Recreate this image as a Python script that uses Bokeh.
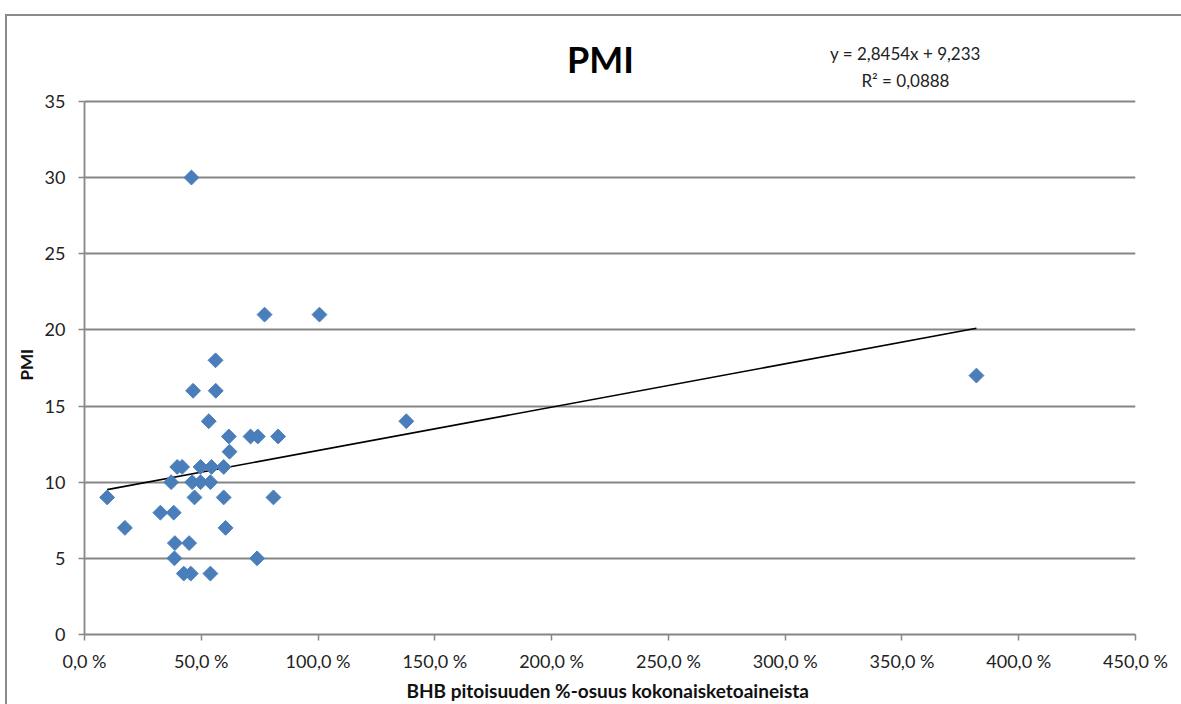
import numpy as np
from bokeh.plotting import figure
from bokeh.models import ColumnDataSource, FixedTicker, CustomJSTickFormatter, InlineStyleSheet, Title
from bokeh.core.properties import value
from bokeh.embed import file_html
from bokeh.resources import INLINE

# BHB share of total ketones (fraction) and PMI values
bhb_share = [0.097, 0.173, 0.458, 0.771, 1.006, 1.378, 3.819, 0.809, 0.739,
             0.561, 0.465, 0.562, 0.532, 0.618, 0.711, 0.742, 0.829, 0.621,
             0.397, 0.418, 0.497, 0.544, 0.596, 0.371, 0.461, 0.497, 0.539,
             0.471, 0.596, 0.325, 0.382, 0.604, 0.387, 0.448, 0.385, 0.425,
             0.455, 0.539]
pmi = [9, 7, 30, 21, 21, 14, 17, 9, 5,
       18, 16, 16, 14, 13, 13, 13, 13, 12,
       11, 11, 11, 11, 11, 10, 10, 10, 10,
       9, 9, 8, 8, 7, 6, 6, 5, 4,
       4, 4]

slope = 2.8454
intercept = 9.233
title_text = "PMI"
equation_text = "y = 2,8454x + 9,233"
r2_text = "R² = 0,0888"
x_label = "BHB pitoisuuden %-osuus  kokonaisketoaineista"
y_label = "PMI"

x_ticks = [0, 0.5, 1.0, 1.5, 2.0, 2.5, 3.0, 3.5, 4.0, 4.5]
y_ticks = [0, 5, 10, 15, 20, 25, 30, 35]
y_axis_max = 35

FONT = "Lato"
GRID = "#868686"

# frame: 1051 px wide (0..4.5), 615 px tall; 35 sits 534 px above 0
y_top = y_axis_max * 615 / 534

p = figure(width=1181, height=704, output_backend="svg", toolbar_location=None,
           x_range=(0, 4.5), y_range=(0, y_top),
           min_border_left=84, min_border_right=46, min_border_top=20, min_border_bottom=69)
p.outline_line_color = None
p.background_fill_color = "white"
p.border_fill_color = "white"
p.stylesheets = [InlineStyleSheet(css=(
    ":host { position: relative; }"
    ":host::after { content: ''; position: absolute; left: 5px; top: 14px; "
    "right: -20px; bottom: -20px; border-left: 2px solid #8a8a8a; "
    "border-top: 2px solid #8a8a8a; pointer-events: none; }"))]

p.xaxis.ticker = FixedTicker(ticks=x_ticks)
p.yaxis.ticker = FixedTicker(ticks=y_ticks)
p.yaxis.bounds = (0, y_axis_max)
p.xaxis.formatter = CustomJSTickFormatter(code="return (tick*100).toFixed(1).replace('.', ',') + ' %';")
p.xgrid.grid_line_color = None
p.ygrid.grid_line_color = GRID
p.ygrid.grid_line_width = 1.8

for ax in (p.xaxis, p.yaxis):
    ax.axis_line_color = GRID
    ax.axis_line_width = 1.8
    ax.major_tick_line_color = GRID
    ax.major_tick_line_width = 1.5
    ax.major_tick_in = 0
    ax.major_tick_out = 6
    ax.minor_tick_line_color = None
    ax.major_label_text_font = FONT
    ax.major_label_text_font_size = "18px"
    ax.major_label_text_color = "#222222"
    ax.axis_label_text_font = FONT
    ax.axis_label_text_font_style = "bold"
    ax.axis_label_text_color = "#111111"

p.xaxis.axis_label = x_label
p.xaxis.axis_label_text_font_size = "19px"
p.xaxis.major_label_standoff = 9
p.yaxis.major_label_standoff = 13
p.xaxis.axis_label_standoff = 4

# y-axis title, centred on the 0..35 part of the axis
p.add_layout(Title(text=y_label, align="left", offset=254, standoff=10,
                   text_font=FONT, text_font_style="bold", text_font_size="17px",
                   text_color="#111111"), "left")

# trend line
x0, x1 = min(bhb_share), max(bhb_share)
p.line([x0, x1], [slope * x0 + intercept, slope * x1 + intercept], line_color="black", line_width=1.6)

src = ColumnDataSource(dict(x=bhb_share, y=pmi))
p.scatter("x", "y", source=src, marker="square", angle=np.pi / 4, size=10.5,
          fill_color="#4A7EBB", line_color="#4A7EBB")

# chart title and trendline equation (placed in the area above the 35 gridline)
p.text(x=[2.209], y=[37.75], text=[title_text], text_font=value(FONT),
       text_font_style="bold", text_font_size="36px", text_align="center",
       text_baseline="middle", text_color="black")
p.text(x=[3.515, 3.515], y=[38.15, 36.38], text=[equation_text, r2_text],
       text_font=value(FONT), text_font_size="17px", text_align="center",
       text_baseline="middle", text_color="#222222")

open("out.html", "w").write(file_html(p, INLINE))
